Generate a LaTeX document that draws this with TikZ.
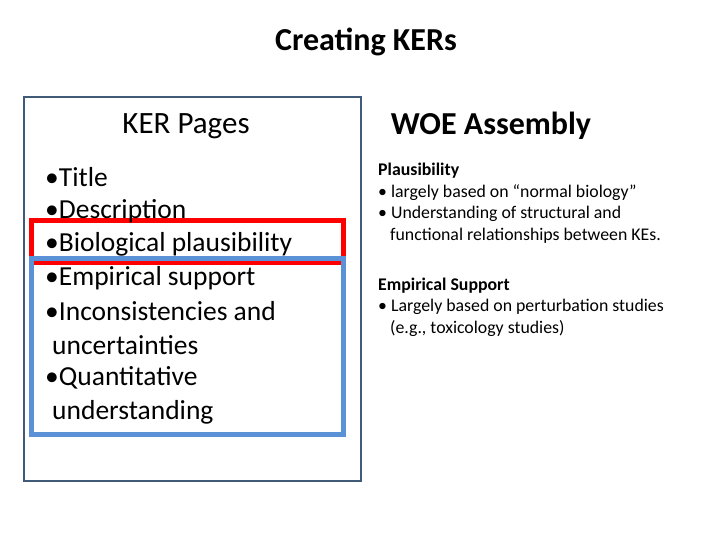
\documentclass[tikz,border=0pt]{standalone}
\usepackage{fontspec}
\setmainfont{Carlito}
\begin{document}
\begin{tikzpicture}[x=1pt,y=-1pt,
  big/.style={anchor=west,inner sep=0pt,font=\fontsize{27.5}{27.5}\selectfont},
  small/.style={anchor=west,inner sep=0pt,font=\fontsize{17.8}{17.8}\selectfont}]
\useasboundingbox (0,0) rectangle (720,540);
\fill[white] (0,0) rectangle (720,540);
\node[font=\bfseries\fontsize{32}{32}\selectfont] (t) at (366,42) {Creating KERs};
\draw[line width=2.5pt,color={rgb,255:red,65;green,90;blue,120}] (24,97) rectangle (361,481);
\draw[line width=5pt,red] (31,221) rectangle (343,262);
\draw[line width=5pt,color={rgb,255:red,90;green,145;blue,215}] (31,258) rectangle (343,434);
\node[font=\fontsize{31}{31}\selectfont] (kp) at (186,126) {KER Pages};
\node[big] (b1) at (45,177) {\textbullet Title};
\node[big] (b2) at (45,211) {\textbullet Description};
\node[big] (b3) at (45,244) {\textbullet Biological plausibility};
\node[big] (b4) at (45,278) {\textbullet Empirical support};
\node[big] (b5) at (45,311) {\textbullet Inconsistencies and};
\node[big] (b6) at (52,345) {uncertainties};
\node[big] (b7) at (45,378) {\textbullet Quantitative};
\node[big] (b8) at (52,412) {understanding};
\node[font=\bfseries\fontsize{32}{32}\selectfont] (woe) at (491,126) {WOE Assembly};
\node[small,font=\bfseries\fontsize{17.8}{17.8}\selectfont] (p0) at (378,171) {Plausibility};
\node[small] (p1) at (378,193) {\textbullet{} largely based on “normal biology”};
\node[small] (p2) at (378,214) {\textbullet{} Understanding of structural and};
\node[small] (p3) at (390,236) {functional relationships between KEs.};
\node[small,font=\bfseries\fontsize{17.8}{17.8}\selectfont] (e0) at (378,286) {Empirical Support};
\node[small] (e1) at (378,307) {\textbullet{} Largely based on perturbation studies};
\node[small] (e2) at (390,329) {(e.g., toxicology studies)};
\end{tikzpicture}
\end{document}
